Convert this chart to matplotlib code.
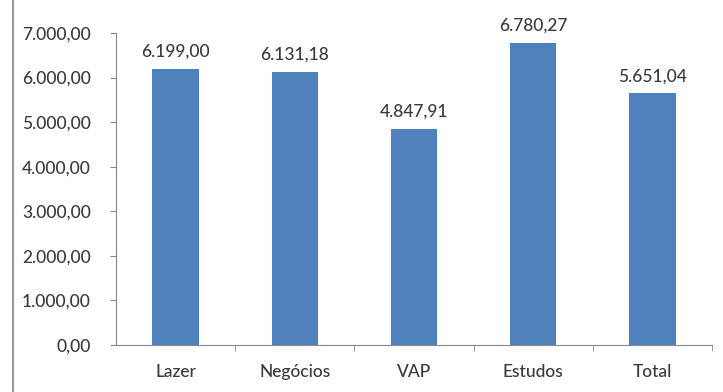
import matplotlib.pyplot as plt
from matplotlib.lines import Line2D

categories = ['Lazer', 'Negócios', 'VAP', 'Estudos', 'Total']
values = [6199.00, 6131.18, 4847.91, 6780.27, 5651.04]
yticks = [0, 1000, 2000, 3000, 4000, 5000, 6000, 7000]


def br(v):
    # formato brasileiro: 6.199,00
    s = '{:,.2f}'.format(v)
    return s.replace(',', 'X').replace('.', ',').replace('X', '.')


plt.rcParams['font.family'] = ['Lato', 'DejaVu Sans']
text_color = '#3a3a3a'
axis_color = '#888888'
fs = 12.5

fig = plt.figure(figsize=(7.23, 3.92), dpi=100)
ax = fig.add_axes([0.1604, 0.1199, 0.8244, 0.7959])

x = range(len(categories))
ax.bar(x, values, width=0.39, color='#4F81BD')
for i, v in enumerate(values):
    ax.text(i, v + 200, br(v), ha='center', va='bottom', fontsize=fs,
            color=text_color, fontweight='medium')

ax.set_xlim(-0.5, len(categories) - 0.5)
ax.set_ylim(0, 7000)
ax.set_yticks(yticks)
ax.set_yticklabels([br(t) for t in yticks], fontsize=fs, color=text_color,
                   fontweight='medium')
ax.set_xticks(list(x))
ax.set_xticklabels(categories, fontsize=fs, color=text_color, fontweight='medium')
ax.tick_params(axis='x', length=0, pad=14)
ax.tick_params(axis='y', length=4, color=axis_color, pad=14)

# marcas entre categorias
ax.set_xticks([i + 0.5 for i in range(len(categories))], minor=True)
ax.tick_params(axis='x', which='minor', length=4, color=axis_color)

for s in ['top', 'right']:
    ax.spines[s].set_visible(False)
for s in ['left', 'bottom']:
    ax.spines[s].set_color(axis_color)

# borda esquerda do quadro
fig.add_artist(Line2D([13 / 723, 13 / 723], [0, 1], color='#999999', lw=1.5))

fig.savefig('out.png', dpi=100)
